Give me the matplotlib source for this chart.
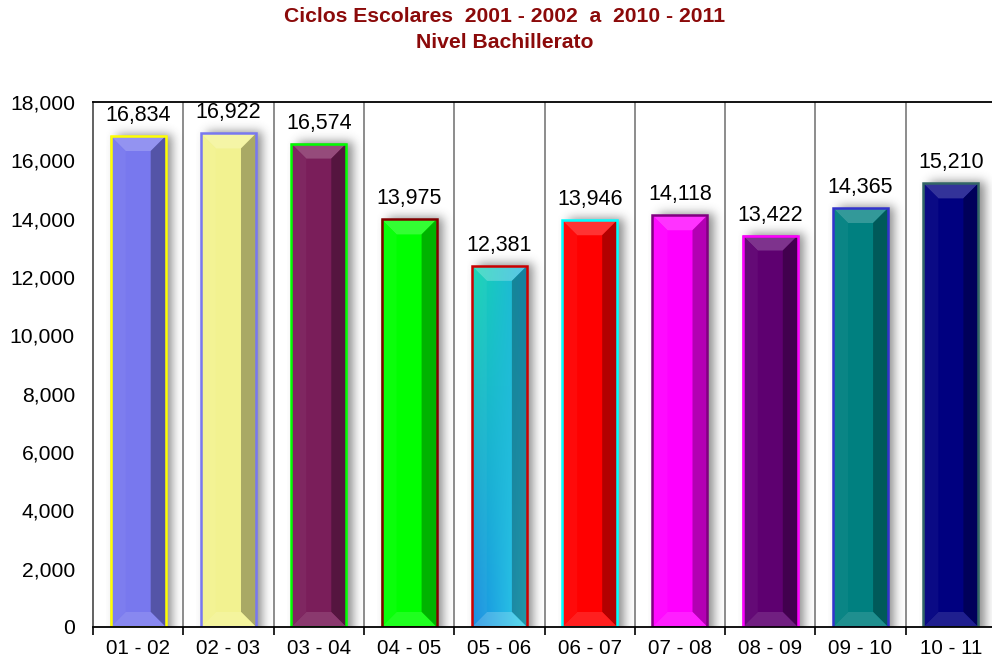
import math
import numpy as np
import matplotlib
matplotlib.use("Agg")
import matplotlib.pyplot as plt
from matplotlib.patches import Polygon, Rectangle
from matplotlib.colors import to_rgb

plt.rcParams['font.family'] = ['Liberation Sans', 'DejaVu Sans']

# Enrollment per school cycle, upper-secondary level
ciclos = ["01 - 02", "02 - 03", "03 - 04", "04 - 05", "05 - 06",
          "06 - 07", "07 - 08", "08 - 09", "09 - 10", "10 - 11"]
alumnos = [16834, 16922, 16574, 13975, 12381, 13946, 14118, 13422, 14365, 15210]

colores = ["#7878EE", "#F2F290", "#7A1E5A", "#00FF00", "#20B8D8",
           "#FF0000", "#FF00FF", "#5E0070", "#008080", "#000080"]
bordes = ["#FFFF00", "#7878F0", "#00FF00", "#800000", "#CC0000",
          "#00FFFF", "#800080", "#FF00FF", "#3333CC", "#336666"]

W, H = 992, 658
fig = plt.figure(figsize=(W / 100, H / 100), dpi=100)
ax_left, ax_right, ax_top, ax_bot = 93, 996, 102, 627
ax = fig.add_axes([ax_left / W, 1 - ax_bot / H, (ax_right - ax_left) / W, (ax_bot - ax_top) / H])

n = len(ciclos)
ax.set_xlim(-0.5, n - 0.5)
ax.set_ylim(0, 18000)

# pixel -> data conversion factors
px_x = (n) / (ax_right - ax_left)
px_y = 18000 / (ax_bot - ax_top)

# frame and grid
for s in ["top", "right"]:
    ax.spines[s].set_color("black")
    ax.spines[s].set_linewidth(1.3)
ax.spines["left"].set_color("#555555")
ax.spines["left"].set_linewidth(1.3)
ax.spines["bottom"].set_color("black")
ax.spines["bottom"].set_linewidth(1.3)

limites = np.arange(n + 1) - 0.5
for b in limites[1:]:
    ax.axvline(b, color="#8C8C8C", lw=1.4, zorder=0.5)

ax.set_xticks(np.arange(n))
ax.set_xticklabels(ciclos, fontsize=14.8)
ax.set_xticks(limites, minor=True)
ax.tick_params(axis="x", which="major", length=0, pad=9)
ax.tick_params(axis="x", which="minor", length=6, width=1.2, direction="out", color="black")
yt = np.arange(0, 18001, 2000)
ax.set_yticks(yt)
ax.set_yticklabels([f"{v:,}" for v in yt], fontsize=15.2)
ax.tick_params(axis="y", length=0, pad=13)


def erf_arr(a):
    return np.frompyfunc(math.erf, 1, 1)(a).astype(float)


def mix(c, t, f):
    c = np.array(to_rgb(c))
    t = np.array(to_rgb(t))
    return tuple(c * (1 - f) + t * f)


def darken(c, f):
    return tuple(np.array(to_rgb(c)) * f)


bw = 0.61
bev_x = 15 * px_x
bev_y = 15 * px_y


def caras(x0, x1, h):
    top = [(x0, h), (x1, h), (x1 - bev_x, h - bev_y), (x0 + bev_x, h - bev_y)]
    right = [(x1, h), (x1, 0), (x1 - bev_x, bev_y), (x1 - bev_x, h - bev_y)]
    bottom = [(x0, 0), (x1, 0), (x1 - bev_x, bev_y), (x0 + bev_x, bev_y)]
    left = [(x0, 0), (x0, h), (x0 + bev_x, h - bev_y), (x0 + bev_x, bev_y)]
    return top, right, bottom, left


for i, (v, c, e) in enumerate(zip(alumnos, colores, bordes)):
    x0, x1 = i - bw / 2, i + bw / 2

    # soft drop shadow
    sig_x, sig_y = 5 * px_x, 5 * px_y
    ox, oy = 6 * px_x, 2 * px_y
    ex0, ex1 = x0 - 0.05, x1 + 0.35
    ey1 = v + 30 * px_y
    gx = np.linspace(ex0, ex1, 120)
    gy = np.linspace(0, ey1, 400)
    sx = 0.5 * (erf_arr((gx - (x0 + ox)) / (sig_x * 1.414)) - erf_arr((gx - (x1 + ox)) / (sig_x * 1.414)))
    sy = 0.5 * (1 - erf_arr((gy - (v + oy)) / (sig_y * 1.414)))
    alpha = np.outer(sy, sx) * 0.6
    img = np.zeros((len(gy), len(gx), 4))
    img[..., 0:3] = 0.25
    img[..., 3] = alpha
    ax.imshow(img, extent=(ex0, ex1, 0, ey1), origin="lower", aspect="auto",
              interpolation="bilinear", zorder=1)

    top, right, bottom, left = caras(x0, x1, v)

    if i == 4:
        # gradient-filled bar
        tl = np.array(to_rgb("#14D6B0"))
        tr = np.array(to_rgb("#20B0E0"))
        bl = np.array(to_rgb("#1488E0"))
        br = np.array(to_rgb("#30D4E8"))
        u = np.linspace(0, 1, 60)[None, :, None]
        w = np.linspace(0, 1, 300)[:, None, None]
        grad = (tl * (1 - u) * w + tr * u * w + bl * (1 - u) * (1 - w) + br * u * (1 - w))
        shades = [(None, 1.0, 0.0), (top, 1.0, 0.25), (right, 0.72, 0.0),
                  (bottom, 1.0, 0.2), (left, 1.0, 0.04)]
        for poly, dk, lt in shades:
            g = grad * dk
            g = g * (1 - lt) + lt
            im = ax.imshow(np.clip(g, 0, 1), extent=(x0, x1, 0, v), origin="lower",
                           aspect="auto", interpolation="bilinear", zorder=2)
            if poly is not None:
                pp = Polygon(poly, closed=True, transform=ax.transData, facecolor="none", edgecolor="none")
                im.set_clip_path(pp)
            else:
                im.set_clip_path(Rectangle((x0, 0), bw, v, transform=ax.transData))
    else:
        ax.add_patch(Rectangle((x0, 0), bw, v, facecolor=c, edgecolor="none", zorder=2))
        ax.add_patch(Polygon(top, closed=True, facecolor=mix(c, "white", 0.2), edgecolor="none", zorder=2.1))
        ax.add_patch(Polygon(right, closed=True, facecolor=darken(c, 0.7), edgecolor="none", zorder=2.1))
        ax.add_patch(Polygon(bottom, closed=True, facecolor=mix(c, "white", 0.12), edgecolor="none", zorder=2.1))
        ax.add_patch(Polygon(left, closed=True, facecolor=mix(c, "white", 0.04), edgecolor="none", zorder=2.1))

    ax.add_patch(Rectangle((x0, 0), bw, v, facecolor="none", edgecolor=e, lw=1.8, zorder=2.5))

    ax.annotate(f"{v:,}", xy=(i, v), xytext=(0, 15), textcoords="offset pixels",
                ha="center", va="baseline", fontsize=15.5, color="black", zorder=3)

titulo_color = "#8B0A0A"
fig.text(505 / W, 1 - 17 / H, "Ciclos Escolares  2001 - 2002  a  2010 - 2011",
         ha="center", va="center", fontsize=15.2, fontweight="bold", color=titulo_color)
fig.text(505 / W, 1 - 42 / H, "Nivel Bachillerato",
         ha="center", va="center", fontsize=15.2, fontweight="bold", color=titulo_color)

fig.savefig("out.png", dpi=100)
